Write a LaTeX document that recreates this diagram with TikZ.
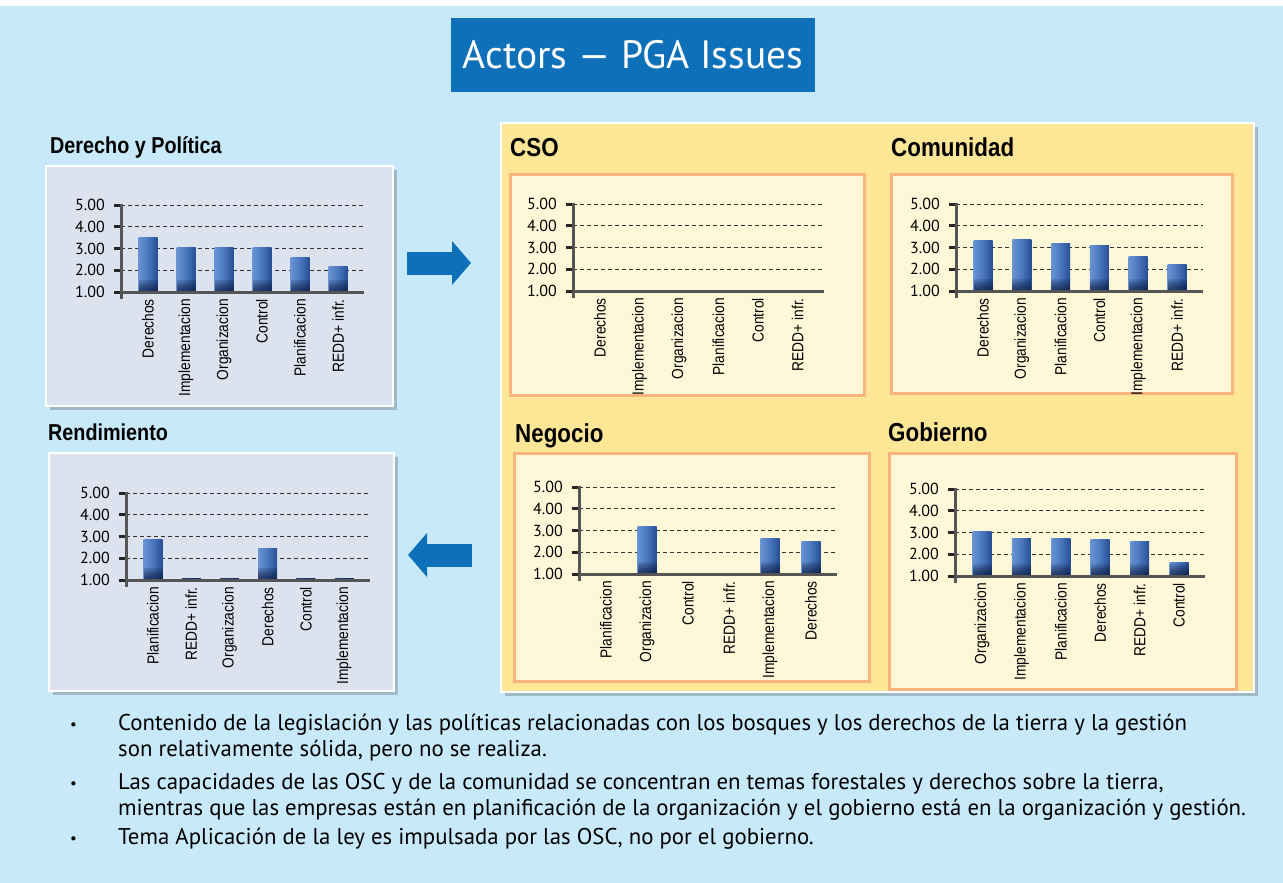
\documentclass[tikz,border=0pt]{standalone}
\usepackage{fontspec}
\setmainfont{PT Sans}
\newfontfamily\headfont[FakeStretch=0.86]{Liberation Sans Bold}
\newfontfamily\labfont[FakeStretch=0.86]{Liberation Sans}
\usetikzlibrary{arrows.meta}
\usetikzlibrary{shadows}
\definecolor{sky}{RGB}{199,233,249}
\definecolor{titleblue}{RGB}{14,112,185}
\definecolor{chartgray}{RGB}{220,227,238}
\definecolor{panelyellow}{RGB}{253,231,150}
\definecolor{boxcream}{RGB}{255,248,216}
\definecolor{boxorange}{RGB}{249,180,126}
\definecolor{axisgray}{RGB}{85,85,85}
\definecolor{barleft}{RGB}{104,148,212}
\definecolor{barmid}{RGB}{74,118,190}
\definecolor{barright}{RGB}{38,78,148}
\definecolor{barbot}{RGB}{8,22,56}
\tikzstyle{S} = [drop shadow={shadow xshift=4pt,shadow yshift=-4pt,opacity=.3,fill=black!70}]
\tikzstyle{W} = [rectangle,fill=chartgray,draw=white,line width=2pt,anchor=north west,S]
\tikzstyle{P} = [W,fill=panelyellow]
\tikzstyle{Q} = [rectangle,fill=boxcream,draw=boxorange,line width=2.5pt,anchor=north west]
\tikzstyle{H} = [anchor=base west,inner sep=0,font=\headfont\fontsize{23}{23}\selectfont]
\tikzstyle{HH} = [H,font=\headfont\fontsize{26}{26}\selectfont]
\tikzstyle{G} = [black!80,line width=1pt,dash pattern=on 4pt off 3pt]
\tikzstyle{A} = [axisgray,line width=3pt]
\tikzstyle{T} = [black!85,line width=3pt]
\tikzstyle{K} = [anchor=east,inner sep=0,font=\fontsize{16}{16}\selectfont]
\tikzstyle{L} = [anchor=east,rotate=90,inner sep=0,font=\labfont\fontsize{16}{16}\selectfont]
\tikzstyle{B} = [left color=barleft,right color=barright,middle color=barmid]
\tikzstyle{BB} = [fill=barbot,opacity=0.16]
\tikzstyle{X} = [anchor=base west,inner sep=0,font=\fontsize{22.8}{22.8}\selectfont]
\tikzstyle{Y} = [X,font=\fontsize{15}{15}\selectfont]
\tikzset{>={Triangle[length=19pt,width=43pt]}}

% #1 name, #2 #3 axis origin (1.00), #4 bar spacing, #5 value/label list
\newcommand{\pgachart}[5]{
  \begin{scope}[shift={(#2,#3)}]
    \foreach \v in {2,...,5}
      \draw [G] (0,{-21.75*(\v-1)}) -- ({27+5*#4+26},{-21.75*(\v-1)});
    \foreach \val/\lab [count=\i] in {#5} {
      \shade [B] ({27+#4*(\i-1)-9.5},0) rectangle ({27+#4*(\i-1)+9.5},{-21.75*(\val-1)});
      \foreach \k in {1,...,6}
        \fill [BB] ({27+#4*(\i-1)-9.5},0) rectangle ({27+#4*(\i-1)+9.5},{-min(2*\k,21.75*(\val-1))});
      \node [L] (#1c\i) at ({27+#4*(\i-1)},7) {\lab};
    }
    \foreach \v in {1,...,5} {
      \draw [T] (-7,{-21.75*(\v-1)}) -- (0,{-21.75*(\v-1)});
      \node [K] (#1t\v) at (-16,{-21.75*(\v-1)}) {\v.00};
    }
    \draw [A] (0,7) -- (0,-88);
    \draw [A] (0,0) -- ({27+5*#4+26},0);
  \end{scope}
}

\begin{document}
\begin{tikzpicture}[x=1pt,y=-1pt]
  \useasboundingbox (0,0) rectangle (1283,883);
  \fill [sky] (0,6) rectangle (1283,883);

  \node [fill=titleblue,text=white,minimum width=364,minimum height=74,font=\fontsize{39.5}{39.5}\selectfont] (n0) at (633,55) {Actors --- PGA Issues};

  \node [W,minimum width=347,minimum height=240] (n1) at (45,165) {};
  \node [W,minimum width=345,minimum height=238] (n2) at (48,452) {};
  \node [P,minimum width=753,minimum height=569] (n3) at (500,122) {};
  \node [Q,minimum width=354,minimum height=221] (n4) at (509,173) {};
  \node [Q,minimum width=341,minimum height=219] (n5) at (890,173) {};
  \node [Q,minimum width=355,minimum height=228] (n6) at (513,452) {};
  \node [Q,minimum width=347,minimum height=236] (n7) at (888,452) {};

  \node [H] (h1) at (50,153) {Derecho y Política};
  \node [H] (h2) at (48,440) {Rendimiento};
  \node [HH] (h3) at (510,156) {CSO};
  \node [HH] (h4) at (891,156) {Comunidad};
  \node [HH] (h5) at (515,442) {Negocio};
  \node [HH] (h6) at (888,441) {Gobierno};

  \pgachart{dp}{121}{292}{38}{3.5/Derechos, 3.05/Implementacion, 3.05/Organizacion, 3.05/Control, 2.6/Planificacion, 2.15/REDD+ infr.}
  \pgachart{rd}{126}{580}{38.2}{2.85/Planificacion, 1.08/REDD+ infr., 1.08/Organizacion, 2.45/Derechos, 1.08/Control, 1.08/Implementacion}
  \pgachart{cs}{573}{291}{39.5}{1/Derechos, 1/Implementacion, 1/Organizacion, 1/Planificacion, 1/Control, 1/REDD+ infr.}
  \pgachart{co}{956}{291}{38.8}{3.33/Derechos, 3.37/Organizacion, 3.2/Planificacion, 3.1/Control, 2.6/Implementacion, 2.2/REDD+ infr.}
  \pgachart{ne}{579}{574}{41}{1/Planificacion, 3.19/Organizacion, 1/Control, 1/REDD+ infr., 2.63/Implementacion, 2.49/Derechos}
  \pgachart{go}{955}{576}{39.4}{3.05/Organizacion, 2.72/Implementacion, 2.72/Planificacion, 2.7/Derechos, 2.6/REDD+ infr., 1.6/Control}

  \coordinate (a1) at (0,263);
  \coordinate (a2) at (0,555);
  \draw [->,titleblue,line width=23pt,shorten <=13pt,shorten >=29pt] (n1.east |- a1) -- (n3.west |- a1);
  \draw [->,titleblue,line width=23pt,shorten <=28pt,shorten >=13pt] (n3.west |- a2) -- (n2.east |- a2);

  \node [Y] (b1) at (70,729) {•};
  \node [Y] (b2) at (70,788) {•};
  \node [Y] (b3) at (70,843) {•};
  \node [X] (t1) at (118,730) {Contenido de la legislación y las políticas relacionadas con los bosques y los derechos de la tierra y la gestión};
  \node [X] (t2) at (118,756) {son relativamente sólida, pero no se realiza.};
  \node [X] (t3) at (118,789) {Las capacidades de las OSC y de la comunidad se concentran en temas forestales y derechos sobre la tierra,};
  \node [X] (t4) at (118,815) {mientras que las empresas están en planificación de la organización y el gobierno está en la organización y gestión.};
  \node [X] (t5) at (118,844) {Tema Aplicación de la ley es impulsada por las OSC, no por el gobierno.};
\end{tikzpicture}
\end{document}
